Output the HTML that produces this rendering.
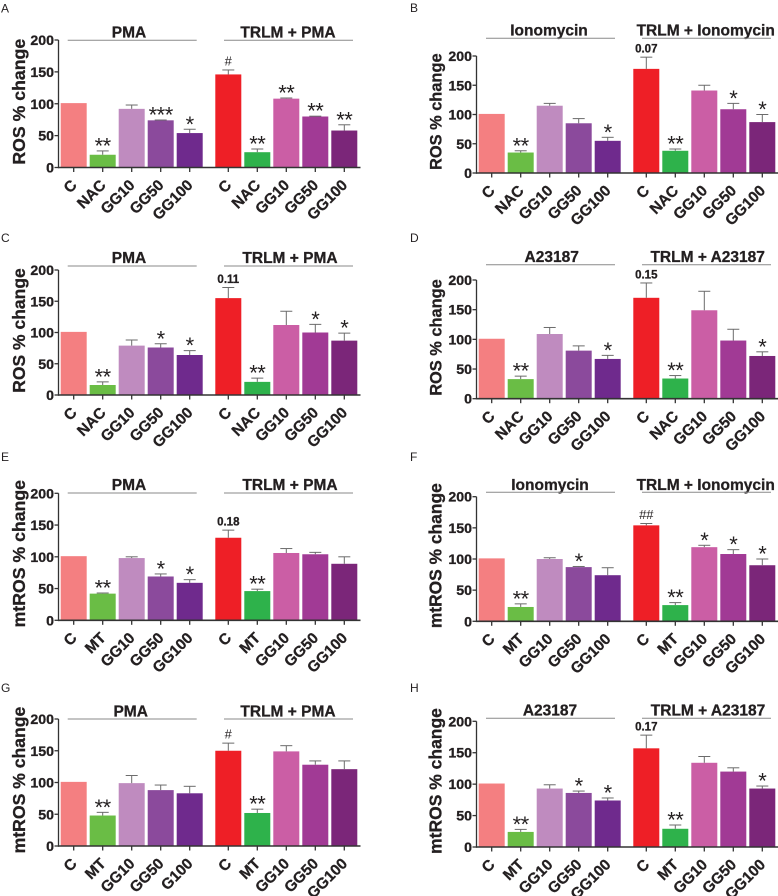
<!DOCTYPE html>
<html lang="en">
<head>
<meta charset="utf-8">
<title>ROS and mtROS percent change panels</title>
<style>
  html, body { margin: 0; padding: 0; background: #fff; }
  body { width: 778px; height: 896px; overflow: hidden; }
  svg { display: block; font-family: "Liberation Sans", Arial, sans-serif; filter: blur(0.3px); }
  text.heavy { stroke: #231f20; stroke-width: 0.3px; }
</style>
</head>
<body>
<svg id="figure" xmlns="http://www.w3.org/2000/svg" width="778" height="896" viewBox="0 0 778 896"></svg>
<script>
// ---------- Data ----------
const yTickValues = [0, 50, 100, 150, 200];
const categoriesNac = ["C", "NAC", "GG10", "GG50", "GG100", "C", "NAC", "GG10", "GG50", "GG100"];
const categoriesMt = ["C", "MT", "GG10", "GG50", "GG100", "C", "MT", "GG10", "GG50", "GG100"];
const categoriesMtG = ["C", "MT", "GG10", "GG50", "G100", "C", "MT", "GG10", "GG50", "GG100"];
const barColors = ["#f47f81", "#6abd45", "#bf8bbf", "#8b4a9c", "#6f2a8d", "#ee1f26", "#2eb24b", "#cb5ea5", "#a13a95", "#7b2679"];

const panelAValues = [101, 20, 92, 74, 54, 146, 24, 108, 80, 58];
const panelAErrors = [101, 26, 98, 74.5, 60, 153, 29, 109, 80.5, 67];
const panelAMarks = ["", "**", "", "***", "*", "#", "**", "**", "**", "**"];

const panelBValues = [101, 35, 115, 85, 55, 178, 38, 141, 109, 87];
const panelBErrors = [101, 38, 119, 93, 61, 198, 41, 150, 119, 100];
const panelBMarks = ["", "**", "", "", "*", "0.07", "**", "", "*", "*"];

const panelCValues = [101, 16, 79, 76, 64, 155, 21, 112, 100, 87];
const panelCErrors = [101, 21, 88, 82, 71, 172, 27, 134, 113, 99];
const panelCMarks = ["", "**", "", "*", "*", "0.11", "**", "", "*", "*"];

const panelDValues = [101, 33, 109, 81, 67, 170, 34, 149, 98, 72];
const panelDErrors = [101, 38, 120, 89, 73, 195, 39, 181, 117, 79];
const panelDMarks = ["", "**", "", "", "*", "0.15", "**", "", "", "*"];

const panelEValues = [101, 42, 98, 69, 59, 130, 46, 106, 104, 89];
const panelEErrors = [101, 43, 100, 73, 64, 142, 49, 113, 107, 100];
const panelEMarks = ["", "**", "", "*", "*", "0.18", "**", "", "", ""];

const panelFValues = [101, 23, 100, 87, 74, 154, 26, 119, 108, 90];
const panelFErrors = [101, 28, 102, 88, 86, 157, 30, 122, 115, 100];
const panelFMarks = ["", "**", "", "*", "", "##", "**", "*", "*", "*"];

const panelGValues = [101, 48, 99, 88, 83, 150, 52, 149, 128, 121];
const panelGErrors = [101, 53, 111, 96, 94, 162, 58, 158, 134, 134];
const panelGMarks = ["", "**", "", "", "", "#", "**", "", "", ""];

const panelHValues = [101, 24, 93, 86, 74, 157, 29, 134, 120, 93];
const panelHErrors = [101, 28, 99, 89, 78, 178, 35, 144, 126, 97];
const panelHMarks = ["", "**", "", "*", "*", "0.17", "**", "", "", "*"];

// ---------- Panels: text plus layout ----------
const panels = [
  { id: "a", letter: "A", stim: "PMA", yTitle: "ROS % change", cats: categoriesNac, values: panelAValues, errors: panelAErrors, marks: panelAMarks,
    x0: 58.5, top: 40, base: 167.5, lineY: 40.3, titleY: 37.5, t1: 129, t2: 288, l1: 67.7, l2: 224, letterX: 1, letterY: 12.7, yTitleX: 25, yTitleY: 101.7, yTitleSize: 17.7 },
  { id: "b", letter: "B", stim: "Ionomycin", yTitle: "ROS % change", cats: categoriesNac, values: panelBValues, errors: panelBErrors, marks: panelBMarks,
    x0: 476.5, top: 56, base: 173, lineY: 38.3, titleY: 35.7, t1: 549, t2: 705.7, l1: 486, l2: 642, letterX: 410, letterY: 12, yTitleX: 441.7, yTitleY: 111.7, yTitleSize: 16.4 },
  { id: "c", letter: "C", stim: "PMA", yTitle: "ROS % change", cats: categoriesNac, values: panelCValues, errors: panelCErrors, marks: panelCMarks,
    x0: 58.5, top: 270, base: 395, lineY: 266, titleY: 263, t1: 129, t2: 290, l1: 67.7, l2: 224, letterX: 1, letterY: 242, yTitleX: 25, yTitleY: 330.5, yTitleSize: 17.5 },
  { id: "d", letter: "D", stim: "A23187", yTitle: "ROS % change", cats: categoriesNac, values: panelDValues, errors: panelDErrors, marks: panelDMarks,
    x0: 476.5, top: 280, base: 398.7, lineY: 264.7, titleY: 262, t1: 551.7, t2: 707.7, l1: 486, l2: 642, letterX: 410, letterY: 242, yTitleX: 441.7, yTitleY: 337.5, yTitleSize: 16.4 },
  { id: "e", letter: "E", stim: "PMA", yTitle: "mtROS % change", cats: categoriesMt, values: panelEValues, errors: panelEErrors, marks: panelEMarks,
    x0: 58.5, top: 493.3, base: 620.3, lineY: 493, titleY: 490, t1: 129, t2: 290, l1: 67.7, l2: 224, letterX: 1, letterY: 461, yTitleX: 25, yTitleY: 553.7, yTitleSize: 17.7 },
  { id: "f", letter: "F", stim: "Ionomycin", yTitle: "mtROS % change", cats: categoriesMt, values: panelFValues, errors: panelFErrors, marks: panelFMarks,
    x0: 476.5, top: 496.7, base: 621.3, lineY: 492.3, titleY: 490, t1: 550, t2: 705.7, l1: 486, l2: 642, letterX: 410, letterY: 461, yTitleX: 441.7, yTitleY: 555.7, yTitleSize: 17.4 },
  { id: "g", letter: "G", stim: "PMA", yTitle: "mtROS % change", cats: categoriesMtG, values: panelGValues, errors: panelGErrors, marks: panelGMarks,
    x0: 58.5, top: 719, base: 846, lineY: 719, titleY: 716.3, t1: 130.7, t2: 288, l1: 67.7, l2: 224, letterX: 1, letterY: 692, yTitleX: 25, yTitleY: 780, yTitleSize: 17.6 },
  { id: "h", letter: "H", stim: "A23187", yTitle: "mtROS % change", cats: categoriesMt, values: panelHValues, errors: panelHErrors, marks: panelHMarks,
    x0: 476.5, top: 721.3, base: 847, lineY: 718.3, titleY: 715.7, t1: 550, t2: 708, l1: 486, l2: 642, letterX: 410, letterY: 692, yTitleX: 441.7, yTitleY: 781, yTitleSize: 17.5 }
];

// ---------- Drawing ----------
const SVG_NS = "http://www.w3.org/2000/svg";
const figure = document.getElementById("figure");

function shape(parent, tag, props) {
  const el = document.createElementNS(SVG_NS, tag);
  for (const key in props) el.setAttribute(key, props[key]);
  parent.appendChild(el);
  return el;
}

function label(parent, text, x, y, size, weight, anchor, rotate) {
  const el = shape(parent, "text", { x: x, y: y, "font-size": size, "font-weight": weight, "text-anchor": anchor, fill: "#231f20" });
  if (weight === "bold") el.setAttribute("class", "heavy");
  if (rotate) el.setAttribute("transform", "rotate(" + rotate + " " + x + " " + y + ")");
  el.textContent = text;
  return el;
}

panels.forEach(function (p) {
  const yScale = function (v) { return p.base - (v / 200) * (p.base - p.top); };
  const xScale = function (i) { return p.x0 + 15.2 + 29 * i + (i >= 5 ? 9.6 : 0); };

  const g = shape(figure, "g", {});
  
  

  const letter = label(g, p.letter, p.letterX, p.letterY, 12, "normal", "start", 0);
  
  

  const title1 = label(g, p.stim, p.t1, p.titleY, 15.5, "bold", "middle", 0);
  
  

  const title2 = label(g, "TRLM + " + p.stim, p.t2, p.titleY, 15.5, "bold", "middle", 0);
  
  

  [p.l1, p.l2].forEach(function (lx) {
    const rule = shape(g, "line", { x1: lx, x2: lx + 129, y1: p.lineY, y2: p.lineY, stroke: "#8a8a8a", "stroke-width": 1 });
    
    
  });

  const yTitle = label(g, p.yTitle, p.yTitleX, p.yTitleY, p.yTitleSize, "bold", "middle", -90);
  
  

  p.values.forEach(function (v, i) {
    const cx = xScale(i);

    const bar = shape(g, "rect", { x: cx - 13, y: yScale(v), width: 26, height: p.base - yScale(v), fill: barColors[i] });
    
    

    if (p.errors[i] > v) {
      const errorTop = yScale(p.errors[i]);
      const stem = shape(g, "line", { x1: cx, x2: cx, y1: yScale(v), y2: errorTop, stroke: "#6b6b6b", "stroke-width": 1 });
      
      
      const cap = shape(g, "line", { x1: cx - 6, x2: cx + 6, y1: errorTop, y2: errorTop, stroke: "#6b6b6b", "stroke-width": 1 });
      
      
    }

    const mark = p.marks[i];
    if (mark) {
      const markTop = yScale(Math.max(p.errors[i], v));
      let markEl;
      if (mark.charAt(0) === "*") {
        markEl = label(g, mark, cx, markTop + 2.5, 22, "normal", "middle", 0);
        markEl.setAttribute("letter-spacing", "-0.5");
      } else if (mark.charAt(0) === "#") {
        markEl = label(g, mark, cx, markTop - 4.5, 13, "normal", "middle", 0);
      } else {
        markEl = label(g, mark, cx, markTop - 4.5, 11.5, "bold", "middle", 0);
      }
      
      
    }

    const tick = shape(g, "line", { x1: cx, x2: cx, y1: p.base, y2: p.base + 4.5, stroke: "#333", "stroke-width": 1.3 });
    
    

    const catLabel = label(g, p.cats[i], cx + 4, p.base + 18.5, 15.3, "bold", "end", -45);
    
    
  });

  yTickValues.forEach(function (t) {
    const y = yScale(t);
    const tick = shape(g, "line", { x1: p.x0 - 4, x2: p.x0, y1: y, y2: y, stroke: "#333", "stroke-width": 1.3 });
    
    
    const tickLabel = label(g, String(t), p.x0 - 4.5, y + 5, 14.2, "bold", "end", 0);
    
    
  });

  const yAxis = shape(g, "line", { x1: p.x0, x2: p.x0, y1: p.top, y2: p.base + 0.8, stroke: "#333", "stroke-width": 1.3 });
  
  

  const xAxis = shape(g, "line", { x1: p.x0, x2: p.x0 + 302, y1: p.base, y2: p.base, stroke: "#333", "stroke-width": 1.6 });
  
  
});
</script>
</body>
</html>
